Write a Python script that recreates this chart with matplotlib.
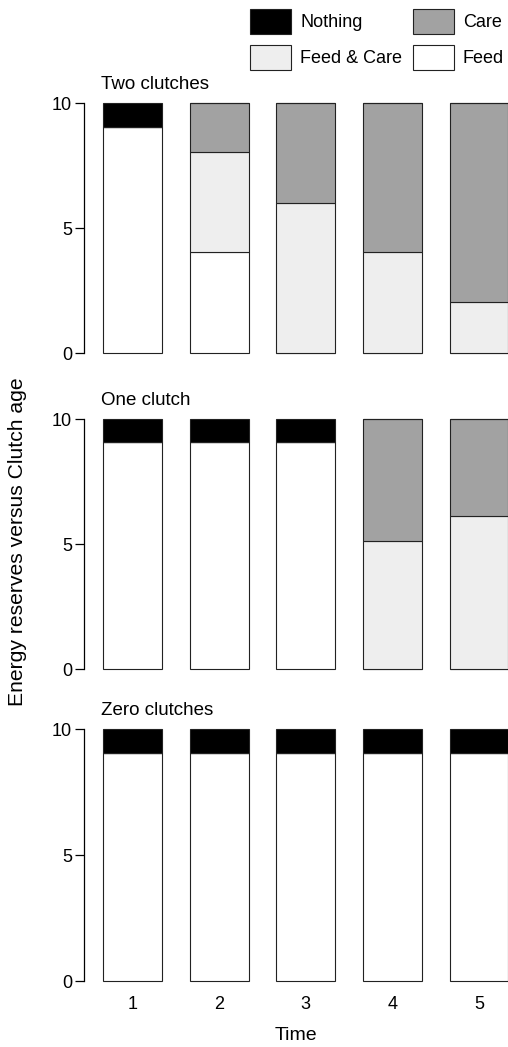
import numpy as np
import matplotlib
matplotlib.use("Agg")
import matplotlib.pyplot as plt
from matplotlib.patches import Patch

plt.rcParams['font.family'] = ['Liberation Sans', 'DejaVu Sans']

# Optimal decision at each time step, by number of clutches
times = [1, 2, 3, 4, 5]
panels = ["Two clutches", "One clutch", "Zero clutches"]

# Energy range (0..10) allocated to each decision, stacked bottom to top
feed = {
    "Two clutches":  [9.05, 4.05, 0.0, 0.0, 0.0],
    "One clutch":    [9.1, 9.1, 9.1, 0.0, 0.0],
    "Zero clutches": [9.05, 9.05, 9.05, 9.05, 9.05],
}
feed_care = {
    "Two clutches":  [0.0, 4.0, 6.0, 4.05, 2.05],
    "One clutch":    [0.0, 0.0, 0.0, 5.15, 6.15],
    "Zero clutches": [0.0, 0.0, 0.0, 0.0, 0.0],
}
care = {
    "Two clutches":  [0.0, 1.95, 4.0, 5.95, 7.95],
    "One clutch":    [0.0, 0.0, 0.0, 4.85, 3.85],
    "Zero clutches": [0.0, 0.0, 0.0, 0.0, 0.0],
}
nothing = {
    "Two clutches":  [0.95, 0.0, 0.0, 0.0, 0.0],
    "One clutch":    [0.9, 0.9, 0.9, 0.0, 0.0],
    "Zero clutches": [0.95, 0.95, 0.95, 0.95, 0.95],
}

col_feed = "white"
col_fc = "#eeeeee"
col_care = "#a2a2a2"
col_nothing = "black"

W, H = 508, 1047
fig = plt.figure(figsize=(W / 100, H / 100), dpi=100)

# axes extents in pixels: (top, bottom)
rows = [(103, 353.3), (419.3, 669.3), (729.3, 981)]
left_px = 84

bar_w = 0.68
for i, name in enumerate(panels):
    top, bot = rows[i]
    ax = fig.add_axes([left_px / W, 1 - bot / H, 1 - left_px / W, (bot - top) / H])
    base = np.zeros(len(times))
    for vals, col in [(feed[name], col_feed), (feed_care[name], col_fc),
                      (care[name], col_care), (nothing[name], col_nothing)]:
        v = np.array(vals)
        ax.bar(times, v, bottom=base, width=bar_w, color=col,
               edgecolor="#222222", linewidth=0.8, clip_on=False)
        base = base + v
    ax.set_xlim(0.44, 5.335)
    ax.set_ylim(0, 10)
    ax.set_yticks([0, 5, 10])
    for s in ["top", "right", "bottom"]:
        ax.spines[s].set_visible(False)
    ax.spines["left"].set_linewidth(0.9)
    ax.tick_params(axis="y", length=6.5, width=0.9, labelsize=13, pad=2)
    ax.tick_params(axis="x", length=0, labelsize=13, pad=11)
    if i < 2:
        ax.set_xticks([])
    else:
        ax.set_xticks(times)
        ax.set_xlabel("Time", fontsize=14, labelpad=10)
    ax.text(0.04, 1.04, name, transform=ax.transAxes, fontsize=13.5,
            ha="left", va="bottom")

fig.text(18 / W, 1 - 542 / H, "Energy reserves versus Clutch age", rotation=90,
         fontsize=15.2, ha="center", va="center")

handles = [
    Patch(facecolor=col_nothing, edgecolor="#222222", linewidth=0.8, label="Nothing"),
    Patch(facecolor=col_fc, edgecolor="#222222", linewidth=0.8, label="Feed & Care"),
    Patch(facecolor=col_care, edgecolor="#222222", linewidth=0.8, label="Care"),
    Patch(facecolor=col_feed, edgecolor="#222222", linewidth=0.8, label="Feed"),
]
fig.legend(handles=handles, ncol=2, loc="upper left",
           bbox_to_anchor=(250 / W, 1 - 9 / H), frameon=False, fontsize=13,
           handlelength=2.27, handleheight=1.75, handletextpad=0.5,
           columnspacing=0.6, labelspacing=0.6, borderpad=0, borderaxespad=0)

fig.savefig("out.png", dpi=100)
